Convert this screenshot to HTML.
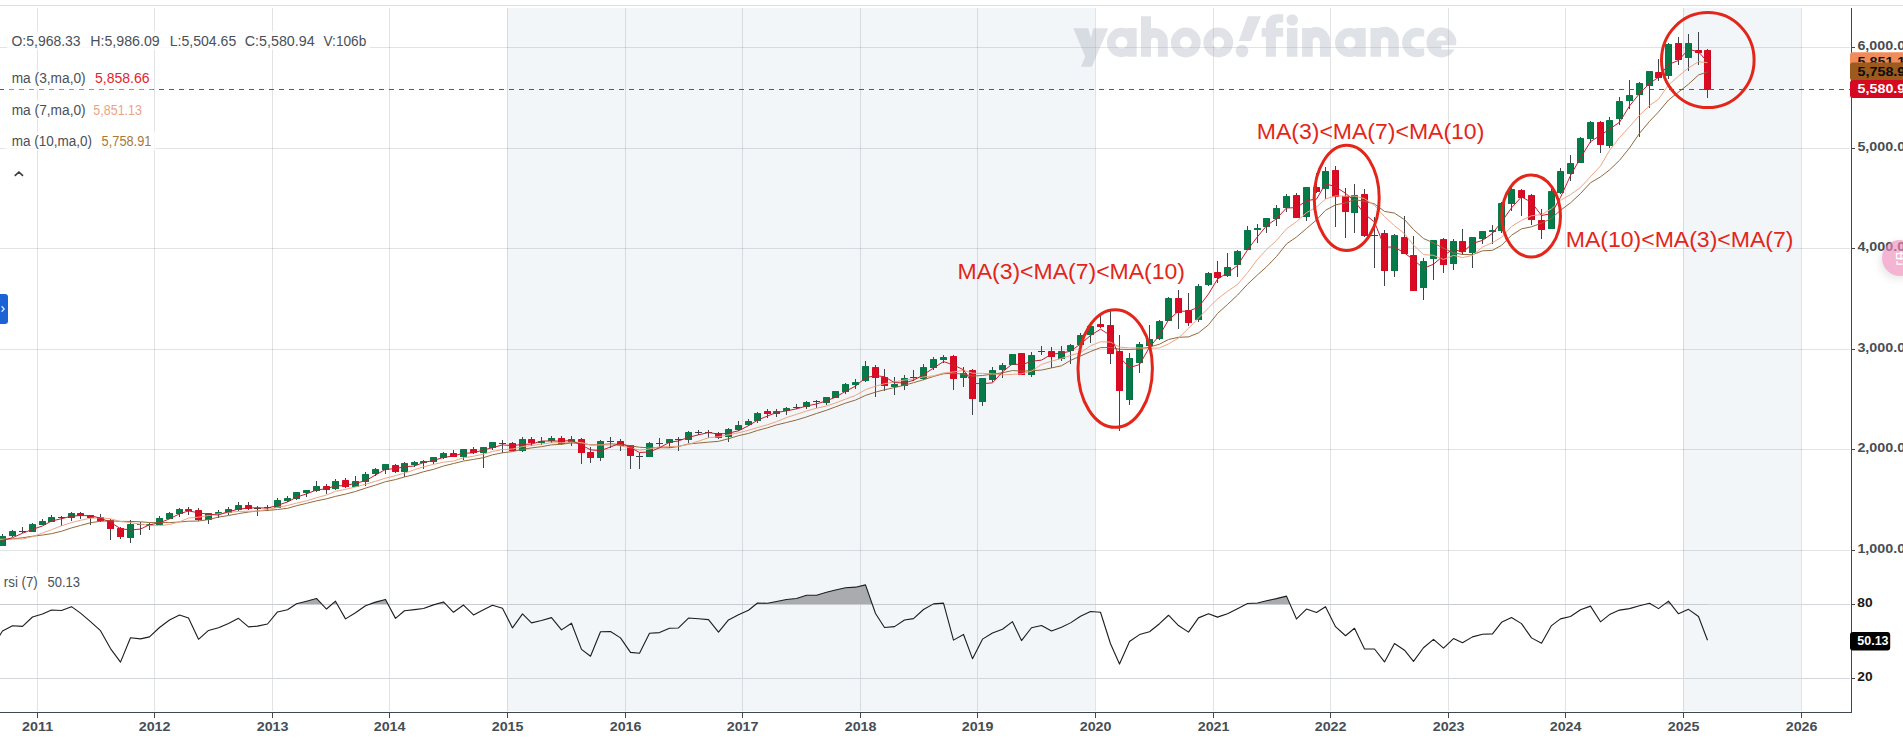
<!DOCTYPE html>
<html><head><meta charset="utf-8"><style>
html,body{margin:0;padding:0;background:#fff;width:1903px;height:748px;overflow:hidden;position:relative}
.lg{position:absolute;font-family:"Liberation Sans",sans-serif;font-size:13px;color:#3d434a;background:rgba(255,255,255,0.85);line-height:18px;white-space:nowrap}
.chev{position:absolute;left:15px;top:171px;width:6px;height:6px;border-left:1.6px solid #444;border-top:1.6px solid #444;transform:rotate(45deg);transform-origin:center}
.tab{position:absolute;left:0;top:294px;width:8px;height:30px;background:#1b62d6;border-radius:0 3px 3px 0}
.pink{position:absolute;left:1882px;top:240px;width:36px;height:36px;border-radius:50%;background:rgba(238,136,184,0.62);box-shadow:-2px 3px 9px rgba(0,0,0,0.10)}
</style></head><body>
<svg width="1903" height="748" viewBox="0 0 1903 748" style="position:absolute;left:0;top:0">
<rect x="0" y="5" width="1903" height="1" fill="#dcdfe3"/>
<rect x="507" y="8" width="588" height="703" fill="#f2f6f9"/>
<rect x="1683" y="8" width="118" height="703" fill="#f2f6f9"/>
<rect x="37" y="8" width="1" height="703" fill="rgba(0,12,30,0.115)"/>
<rect x="154" y="8" width="1" height="703" fill="rgba(0,12,30,0.115)"/>
<rect x="272" y="8" width="1" height="703" fill="rgba(0,12,30,0.115)"/>
<rect x="389" y="8" width="1" height="703" fill="rgba(0,12,30,0.115)"/>
<rect x="507" y="8" width="1" height="703" fill="rgba(0,12,30,0.115)"/>
<rect x="625" y="8" width="1" height="703" fill="rgba(0,12,30,0.115)"/>
<rect x="742" y="8" width="1" height="703" fill="rgba(0,12,30,0.115)"/>
<rect x="860" y="8" width="1" height="703" fill="rgba(0,12,30,0.115)"/>
<rect x="977" y="8" width="1" height="703" fill="rgba(0,12,30,0.115)"/>
<rect x="1095" y="8" width="1" height="703" fill="rgba(0,12,30,0.115)"/>
<rect x="1213" y="8" width="1" height="703" fill="rgba(0,12,30,0.115)"/>
<rect x="1330" y="8" width="1" height="703" fill="rgba(0,12,30,0.115)"/>
<rect x="1448" y="8" width="1" height="703" fill="rgba(0,12,30,0.115)"/>
<rect x="1565" y="8" width="1" height="703" fill="rgba(0,12,30,0.115)"/>
<rect x="1683" y="8" width="1" height="703" fill="rgba(0,12,30,0.115)"/>
<rect x="1801" y="8" width="1" height="703" fill="rgba(0,12,30,0.115)"/>
<rect x="0" y="550" width="1850" height="1" fill="rgba(0,12,30,0.115)"/>
<rect x="0" y="449" width="1850" height="1" fill="rgba(0,12,30,0.115)"/>
<rect x="0" y="349" width="1850" height="1" fill="rgba(0,12,30,0.115)"/>
<rect x="0" y="248" width="1850" height="1" fill="rgba(0,12,30,0.115)"/>
<rect x="0" y="148" width="1850" height="1" fill="rgba(0,12,30,0.115)"/>
<rect x="0" y="47" width="1850" height="1" fill="rgba(0,12,30,0.115)"/>
<rect x="0" y="604" width="1850" height="1" fill="#d3d6da"/>
<rect x="0" y="678" width="1850" height="1" fill="#d3d6da"/>
<g opacity="0.33"><path d="M1073.3,28.2 L1088.2,28.2 L1091,38.5 L1093.2,28.2 L1108.2,28.2 L1091.8,66.8 L1081,66.8 L1085.2,56.6 Z M1106.90,42.50 a14.6,14.6 0 1,1 29.20,0 a14.6,14.6 0 1,1 -29.20,0 Z M1115.60,42.50 a5.9,5.9 0 1,0 11.80,0 a5.9,5.9 0 1,0 -11.80,0 Z M1127.40,27.90 H1136.60 V56.80 H1127.40 Z M1141.00,16.30 H1151.00 V56.80 H1141.00 Z M1141.00,41.30 A13.4,13.4 0 0,1 1167.80,41.30 H1157.85 A3.45,3.45 0 0,0 1150.95,41.30 Z M1157.90,41.20 H1167.80 V56.80 H1157.90 Z M1170.90,42.50 a14.9,14.9 0 1,1 29.80,0 a14.9,14.9 0 1,1 -29.80,0 Z M1179.90,42.50 a5.9,5.9 0 1,0 11.80,0 a5.9,5.9 0 1,0 -11.80,0 Z M1203.40,42.50 a14.9,14.9 0 1,1 29.80,0 a14.9,14.9 0 1,1 -29.80,0 Z M1212.40,42.50 a5.9,5.9 0 1,0 11.80,0 a5.9,5.9 0 1,0 -11.80,0 Z M1247.7,16.3 L1260.9,16.3 L1250.9,41 L1238.8,41 Z M1235.70,51.00 a6.3,6.3 0 1,1 12.60,0 a6.3,6.3 0 1,1 -12.60,0 Z M1265.9,56.8 V25 A10.5,10.5 0 0,1 1276.4,14.3 H1283.2 V22.6 H1279.2 A3.3,3.3 0 0,0 1275.9,25.9 V56.8 Z M1261.70,27.90 H1283.20 V36.80 H1261.70 Z M1286.90,27.90 H1297.40 V56.80 H1286.90 Z M1286.40,20.00 a5.8,5.8 0 1,1 11.60,0 a5.8,5.8 0 1,1 -11.60,0 Z M1302.10,27.90 H1312.70 V56.80 H1302.10 Z M1302.20,41.00 A13.9,13.9 0 0,1 1330.00,41.00 H1319.60 A3.5,3.5 0 0,0 1312.60,41.00 Z M1320.00,40.90 H1330.00 V56.80 H1320.00 Z M1335.00,42.50 a14.6,14.6 0 1,1 29.20,0 a14.6,14.6 0 1,1 -29.20,0 Z M1343.70,42.50 a5.9,5.9 0 1,0 11.80,0 a5.9,5.9 0 1,0 -11.80,0 Z M1355.70,27.90 H1365.70 V56.80 H1355.70 Z M1370.50,27.90 H1381.00 V56.80 H1370.50 Z M1370.50,41.00 A14.15,14.15 0 0,1 1398.80,41.00 H1388.30 A3.65,3.65 0 0,0 1381.00,41.00 Z M1388.30,40.90 H1398.80 V56.80 H1388.30 Z" fill="#a0a8b6"/>
<clipPath id="cclip"><path d="M1400,10 H1424.2 V36.6 H1417 V48.6 H1424.2 V75 H1400 Z"/></clipPath>
<path d="M1402.10,42.50 a14.799999999999999,14.799999999999999 0 1,1 29.60,0 a14.799999999999999,14.799999999999999 0 1,1 -29.60,0 Z M1411.00,42.50 a5.9,5.9 0 1,0 11.80,0 a5.9,5.9 0 1,0 -11.80,0 Z" fill="#a0a8b6" fill-rule="evenodd" clip-path="url(#cclip)"/>
<clipPath id="eclip"><path d="M1420,10 H1460 V45.3 H1441.3 V49.6 H1460 V75 H1420 Z"/></clipPath>
<path d="M1426.50,42.50 a14.9,14.9 0 1,1 29.80,0 a14.9,14.9 0 1,1 -29.80,0 Z M1436.40,40.6 A4.9,4.9 0 0,1 1446.20,40.6 Z" fill="#a0a8b6" fill-rule="evenodd" clip-path="url(#eclip)"/></g>
<defs><clipPath id="cp"><rect x="0" y="8" width="1851" height="704"/></clipPath></defs>
<g clip-path="url(#cp)">
<clipPath id="rc"><rect x="0" y="0" width="1851" height="604.5"/></clipPath>
<polygon points="-6.5,604.5 -6.5,645.26 2.5,631.04 12.5,625.76 22.5,626.34 32.5,616.98 42.5,614.05 51.5,610.07 61.5,610.49 71.5,606.66 80.5,613.13 90.5,621.58 100.5,630.65 110.5,648.57 120.5,662.11 130.5,637.76 140.5,638.87 149.5,636.91 159.5,627.49 169.5,620.05 179.5,614.97 188.5,618.05 198.5,639.29 208.5,630.46 218.5,627.72 228.5,623.39 238.5,618.35 248.5,626.86 257.5,626.09 267.5,623.99 277.5,611.95 287.5,609.79 296.5,603.73 306.5,601.17 316.5,598.49 326.5,609.02 335.5,601.19 345.5,618.88 355.5,612.8 365.5,605.7 375.5,602.11 385.5,599.43 395.5,618.37 404.5,610.78 414.5,609.64 423.5,608.54 433.5,604.89 443.5,601.91 453.5,612.3 463.5,605.06 473.5,614.94 483.5,609.83 492.5,605.24 502.5,608.24 512.5,627.88 522.5,613.89 531.5,622.88 541.5,620.57 551.5,617.65 561.5,629.91 571.5,623.19 581.5,649.39 590.5,656.25 600.5,631.7 610.5,631.57 620.5,637.86 630.5,652.34 639.5,653.32 649.5,633.32 659.5,632.6 669.5,628.26 678.5,627.98 688.5,618.05 698.5,618.76 708.5,619.58 718.5,632.18 728.5,619.95 738.5,614.78 748.5,610.26 757.5,603.02 767.5,603.32 776.5,601.58 786.5,599.43 796.5,598.54 806.5,595.29 816.5,595.2 826.5,592.34 835.5,589.92 845.5,587.78 855.5,587.17 865.5,584.9 875.5,613.54 884.5,627.47 894.5,626.63 904.5,620.06 913.5,618.61 923.5,609.47 933.5,603.86 943.5,603.11 953.5,640.14 963.5,634.45 972.5,658.64 982.5,639.14 992.5,632.95 1002.5,629.23 1012.5,621.67 1021.5,640.57 1031.5,627.72 1041.5,625.45 1051.5,630.92 1061.5,627.23 1070.5,622.87 1080.5,616.28 1090.5,611.45 1100.5,612.27 1110.5,643.75 1119.5,664.09 1129.5,641.43 1139.5,634.59 1149.5,631.75 1159.5,623.7 1168.5,615.23 1178.5,625.57 1188.5,632.11 1198.5,617.88 1208.5,613.82 1217.5,617.14 1227.5,613.75 1237.5,608.69 1247.5,603.5 1257.5,602.98 1266.5,600.78 1276.5,598.64 1286.5,596.15 1296.5,618.97 1306.5,609.08 1316.5,612.52 1325.5,606.69 1335.5,626.7 1345.5,635.76 1354.5,628.24 1364.5,648.99 1374.5,648.98 1384.5,661.94 1394.5,643.47 1404.5,650.18 1413.5,661.4 1423.5,647.75 1433.5,639.36 1443.5,648.13 1453.5,638.55 1462.5,642.81 1472.5,636.9 1482.5,634.32 1492.5,633.84 1501.5,622.33 1511.5,617.58 1521.5,623.6 1531.5,637.88 1541.5,643.19 1551.5,625.58 1560.5,618.84 1570.5,616.5 1580.5,609.68 1590.5,606.14 1600.5,621.82 1609.5,614.62 1619.5,610.1 1629.5,608.64 1639.5,605.69 1649.5,603.21 1658.5,608.63 1668.5,601.17 1678.5,613.79 1688.5,609.37 1698.5,616.51 1707.5,640.29 1707.5,604.5" fill="#a9abaf" clip-path="url(#rc)"/>
<polyline points="-6.5,645.26 2.5,631.04 12.5,625.76 22.5,626.34 32.5,616.98 42.5,614.05 51.5,610.07 61.5,610.49 71.5,606.66 80.5,613.13 90.5,621.58 100.5,630.65 110.5,648.57 120.5,662.11 130.5,637.76 140.5,638.87 149.5,636.91 159.5,627.49 169.5,620.05 179.5,614.97 188.5,618.05 198.5,639.29 208.5,630.46 218.5,627.72 228.5,623.39 238.5,618.35 248.5,626.86 257.5,626.09 267.5,623.99 277.5,611.95 287.5,609.79 296.5,603.73 306.5,601.17 316.5,598.49 326.5,609.02 335.5,601.19 345.5,618.88 355.5,612.8 365.5,605.7 375.5,602.11 385.5,599.43 395.5,618.37 404.5,610.78 414.5,609.64 423.5,608.54 433.5,604.89 443.5,601.91 453.5,612.3 463.5,605.06 473.5,614.94 483.5,609.83 492.5,605.24 502.5,608.24 512.5,627.88 522.5,613.89 531.5,622.88 541.5,620.57 551.5,617.65 561.5,629.91 571.5,623.19 581.5,649.39 590.5,656.25 600.5,631.7 610.5,631.57 620.5,637.86 630.5,652.34 639.5,653.32 649.5,633.32 659.5,632.6 669.5,628.26 678.5,627.98 688.5,618.05 698.5,618.76 708.5,619.58 718.5,632.18 728.5,619.95 738.5,614.78 748.5,610.26 757.5,603.02 767.5,603.32 776.5,601.58 786.5,599.43 796.5,598.54 806.5,595.29 816.5,595.2 826.5,592.34 835.5,589.92 845.5,587.78 855.5,587.17 865.5,584.9 875.5,613.54 884.5,627.47 894.5,626.63 904.5,620.06 913.5,618.61 923.5,609.47 933.5,603.86 943.5,603.11 953.5,640.14 963.5,634.45 972.5,658.64 982.5,639.14 992.5,632.95 1002.5,629.23 1012.5,621.67 1021.5,640.57 1031.5,627.72 1041.5,625.45 1051.5,630.92 1061.5,627.23 1070.5,622.87 1080.5,616.28 1090.5,611.45 1100.5,612.27 1110.5,643.75 1119.5,664.09 1129.5,641.43 1139.5,634.59 1149.5,631.75 1159.5,623.7 1168.5,615.23 1178.5,625.57 1188.5,632.11 1198.5,617.88 1208.5,613.82 1217.5,617.14 1227.5,613.75 1237.5,608.69 1247.5,603.5 1257.5,602.98 1266.5,600.78 1276.5,598.64 1286.5,596.15 1296.5,618.97 1306.5,609.08 1316.5,612.52 1325.5,606.69 1335.5,626.7 1345.5,635.76 1354.5,628.24 1364.5,648.99 1374.5,648.98 1384.5,661.94 1394.5,643.47 1404.5,650.18 1413.5,661.4 1423.5,647.75 1433.5,639.36 1443.5,648.13 1453.5,638.55 1462.5,642.81 1472.5,636.9 1482.5,634.32 1492.5,633.84 1501.5,622.33 1511.5,617.58 1521.5,623.6 1531.5,637.88 1541.5,643.19 1551.5,625.58 1560.5,618.84 1570.5,616.5 1580.5,609.68 1590.5,606.14 1600.5,621.82 1609.5,614.62 1619.5,610.1 1629.5,608.64 1639.5,605.69 1649.5,603.21 1658.5,608.63 1668.5,601.17 1678.5,613.79 1688.5,609.37 1698.5,616.51 1707.5,640.29" fill="none" stroke="#1b1d20" stroke-width="1.1" stroke-linejoin="round"/>
<rect x="-7" y="537" width="1" height="10" fill="#3f444b"/>
<rect x="2" y="534" width="1" height="12" fill="#3f444b"/>
<rect x="12" y="530" width="1" height="7" fill="#3f444b"/>
<rect x="22" y="527" width="1" height="6" fill="#3f444b"/>
<rect x="32" y="523" width="1" height="9" fill="#3f444b"/>
<rect x="42" y="519" width="1" height="6" fill="#3f444b"/>
<rect x="51" y="515" width="1" height="7" fill="#3f444b"/>
<rect x="61" y="516" width="1" height="10" fill="#3f444b"/>
<rect x="71" y="512" width="1" height="9" fill="#3f444b"/>
<rect x="80" y="512" width="1" height="7" fill="#3f444b"/>
<rect x="90" y="515" width="1" height="10" fill="#3f444b"/>
<rect x="100" y="514" width="1" height="8" fill="#3f444b"/>
<rect x="110" y="519" width="1" height="21" fill="#3f444b"/>
<rect x="120" y="527" width="1" height="12" fill="#3f444b"/>
<rect x="130" y="520" width="1" height="23" fill="#3f444b"/>
<rect x="140" y="522" width="1" height="13" fill="#3f444b"/>
<rect x="149" y="523" width="1" height="7" fill="#3f444b"/>
<rect x="159" y="516" width="1" height="9" fill="#3f444b"/>
<rect x="169" y="512" width="1" height="7" fill="#3f444b"/>
<rect x="179" y="508" width="1" height="9" fill="#3f444b"/>
<rect x="188" y="507" width="1" height="8" fill="#3f444b"/>
<rect x="198" y="508" width="1" height="13" fill="#3f444b"/>
<rect x="208" y="513" width="1" height="11" fill="#3f444b"/>
<rect x="218" y="510" width="1" height="8" fill="#3f444b"/>
<rect x="228" y="507" width="1" height="8" fill="#3f444b"/>
<rect x="238" y="502" width="1" height="9" fill="#3f444b"/>
<rect x="248" y="502" width="1" height="8" fill="#3f444b"/>
<rect x="257" y="506" width="1" height="10" fill="#3f444b"/>
<rect x="267" y="505" width="1" height="6" fill="#3f444b"/>
<rect x="277" y="498" width="1" height="10" fill="#3f444b"/>
<rect x="287" y="496" width="1" height="6" fill="#3f444b"/>
<rect x="296" y="492" width="1" height="8" fill="#3f444b"/>
<rect x="306" y="490" width="1" height="7" fill="#3f444b"/>
<rect x="316" y="481" width="1" height="11" fill="#3f444b"/>
<rect x="326" y="484" width="1" height="10" fill="#3f444b"/>
<rect x="335" y="479" width="1" height="11" fill="#3f444b"/>
<rect x="345" y="478" width="1" height="10" fill="#3f444b"/>
<rect x="355" y="476" width="1" height="11" fill="#3f444b"/>
<rect x="365" y="472" width="1" height="14" fill="#3f444b"/>
<rect x="375" y="468" width="1" height="8" fill="#3f444b"/>
<rect x="385" y="464" width="1" height="10" fill="#3f444b"/>
<rect x="395" y="464" width="1" height="9" fill="#3f444b"/>
<rect x="404" y="462" width="1" height="15" fill="#3f444b"/>
<rect x="414" y="461" width="1" height="6" fill="#3f444b"/>
<rect x="423" y="460" width="1" height="9" fill="#3f444b"/>
<rect x="433" y="457" width="1" height="7" fill="#3f444b"/>
<rect x="443" y="452" width="1" height="7" fill="#3f444b"/>
<rect x="453" y="450" width="1" height="7" fill="#3f444b"/>
<rect x="463" y="449" width="1" height="11" fill="#3f444b"/>
<rect x="473" y="447" width="1" height="7" fill="#3f444b"/>
<rect x="483" y="447" width="1" height="21" fill="#3f444b"/>
<rect x="492" y="442" width="1" height="8" fill="#3f444b"/>
<rect x="502" y="440" width="1" height="13" fill="#3f444b"/>
<rect x="512" y="442" width="1" height="9" fill="#3f444b"/>
<rect x="522" y="437" width="1" height="15" fill="#3f444b"/>
<rect x="531" y="437" width="1" height="9" fill="#3f444b"/>
<rect x="541" y="437" width="1" height="8" fill="#3f444b"/>
<rect x="551" y="436" width="1" height="7" fill="#3f444b"/>
<rect x="561" y="436" width="1" height="9" fill="#3f444b"/>
<rect x="571" y="436" width="1" height="10" fill="#3f444b"/>
<rect x="581" y="438" width="1" height="26" fill="#3f444b"/>
<rect x="590" y="447" width="1" height="16" fill="#3f444b"/>
<rect x="600" y="440" width="1" height="21" fill="#3f444b"/>
<rect x="610" y="437" width="1" height="11" fill="#3f444b"/>
<rect x="620" y="439" width="1" height="12" fill="#3f444b"/>
<rect x="630" y="445" width="1" height="24" fill="#3f444b"/>
<rect x="639" y="453" width="1" height="16" fill="#3f444b"/>
<rect x="649" y="442" width="1" height="15" fill="#3f444b"/>
<rect x="659" y="438" width="1" height="9" fill="#3f444b"/>
<rect x="669" y="439" width="1" height="9" fill="#3f444b"/>
<rect x="678" y="437" width="1" height="14" fill="#3f444b"/>
<rect x="688" y="431" width="1" height="12" fill="#3f444b"/>
<rect x="698" y="430" width="1" height="5" fill="#3f444b"/>
<rect x="708" y="430" width="1" height="8" fill="#3f444b"/>
<rect x="718" y="432" width="1" height="7" fill="#3f444b"/>
<rect x="728" y="428" width="1" height="14" fill="#3f444b"/>
<rect x="738" y="421" width="1" height="10" fill="#3f444b"/>
<rect x="748" y="419" width="1" height="7" fill="#3f444b"/>
<rect x="757" y="412" width="1" height="11" fill="#3f444b"/>
<rect x="767" y="409" width="1" height="9" fill="#3f444b"/>
<rect x="776" y="409" width="1" height="8" fill="#3f444b"/>
<rect x="786" y="407" width="1" height="8" fill="#3f444b"/>
<rect x="796" y="404" width="1" height="5" fill="#3f444b"/>
<rect x="806" y="401" width="1" height="8" fill="#3f444b"/>
<rect x="816" y="400" width="1" height="8" fill="#3f444b"/>
<rect x="826" y="397" width="1" height="8" fill="#3f444b"/>
<rect x="835" y="391" width="1" height="7" fill="#3f444b"/>
<rect x="845" y="383" width="1" height="11" fill="#3f444b"/>
<rect x="855" y="379" width="1" height="10" fill="#3f444b"/>
<rect x="865" y="361" width="1" height="21" fill="#3f444b"/>
<rect x="875" y="365" width="1" height="32" fill="#3f444b"/>
<rect x="884" y="369" width="1" height="22" fill="#3f444b"/>
<rect x="894" y="377" width="1" height="18" fill="#3f444b"/>
<rect x="904" y="375" width="1" height="15" fill="#3f444b"/>
<rect x="913" y="370" width="1" height="11" fill="#3f444b"/>
<rect x="923" y="364" width="1" height="16" fill="#3f444b"/>
<rect x="933" y="357" width="1" height="13" fill="#3f444b"/>
<rect x="943" y="355" width="1" height="8" fill="#3f444b"/>
<rect x="953" y="355" width="1" height="35" fill="#3f444b"/>
<rect x="963" y="367" width="1" height="20" fill="#3f444b"/>
<rect x="972" y="369" width="1" height="46" fill="#3f444b"/>
<rect x="982" y="378" width="1" height="28" fill="#3f444b"/>
<rect x="992" y="367" width="1" height="15" fill="#3f444b"/>
<rect x="1002" y="363" width="1" height="15" fill="#3f444b"/>
<rect x="1012" y="354" width="1" height="11" fill="#3f444b"/>
<rect x="1021" y="353" width="1" height="22" fill="#3f444b"/>
<rect x="1031" y="352" width="1" height="25" fill="#3f444b"/>
<rect x="1041" y="346" width="1" height="9" fill="#3f444b"/>
<rect x="1051" y="347" width="1" height="21" fill="#3f444b"/>
<rect x="1061" y="346" width="1" height="15" fill="#3f444b"/>
<rect x="1070" y="344" width="1" height="20" fill="#3f444b"/>
<rect x="1080" y="333" width="1" height="12" fill="#3f444b"/>
<rect x="1090" y="324" width="1" height="19" fill="#3f444b"/>
<rect x="1100" y="315" width="1" height="13" fill="#3f444b"/>
<rect x="1110" y="309" width="1" height="55" fill="#3f444b"/>
<rect x="1119" y="335" width="1" height="96" fill="#3f444b"/>
<rect x="1129" y="353" width="1" height="52" fill="#3f444b"/>
<rect x="1139" y="342" width="1" height="31" fill="#3f444b"/>
<rect x="1149" y="325" width="1" height="25" fill="#3f444b"/>
<rect x="1159" y="320" width="1" height="20" fill="#3f444b"/>
<rect x="1168" y="297" width="1" height="24" fill="#3f444b"/>
<rect x="1178" y="290" width="1" height="39" fill="#3f444b"/>
<rect x="1188" y="293" width="1" height="33" fill="#3f444b"/>
<rect x="1198" y="284" width="1" height="38" fill="#3f444b"/>
<rect x="1208" y="272" width="1" height="14" fill="#3f444b"/>
<rect x="1217" y="261" width="1" height="22" fill="#3f444b"/>
<rect x="1227" y="253" width="1" height="24" fill="#3f444b"/>
<rect x="1237" y="250" width="1" height="27" fill="#3f444b"/>
<rect x="1247" y="226" width="1" height="24" fill="#3f444b"/>
<rect x="1257" y="224" width="1" height="19" fill="#3f444b"/>
<rect x="1266" y="218" width="1" height="15" fill="#3f444b"/>
<rect x="1276" y="205" width="1" height="21" fill="#3f444b"/>
<rect x="1286" y="194" width="1" height="18" fill="#3f444b"/>
<rect x="1296" y="193" width="1" height="25" fill="#3f444b"/>
<rect x="1306" y="187" width="1" height="34" fill="#3f444b"/>
<rect x="1316" y="173" width="1" height="20" fill="#3f444b"/>
<rect x="1325" y="167" width="1" height="32" fill="#3f444b"/>
<rect x="1335" y="166" width="1" height="61" fill="#3f444b"/>
<rect x="1345" y="188" width="1" height="50" fill="#3f444b"/>
<rect x="1354" y="184" width="1" height="49" fill="#3f444b"/>
<rect x="1364" y="189" width="1" height="48" fill="#3f444b"/>
<rect x="1374" y="217" width="1" height="51" fill="#3f444b"/>
<rect x="1384" y="230" width="1" height="56" fill="#3f444b"/>
<rect x="1394" y="234" width="1" height="43" fill="#3f444b"/>
<rect x="1404" y="216" width="1" height="38" fill="#3f444b"/>
<rect x="1413" y="236" width="1" height="55" fill="#3f444b"/>
<rect x="1423" y="258" width="1" height="42" fill="#3f444b"/>
<rect x="1433" y="240" width="1" height="40" fill="#3f444b"/>
<rect x="1443" y="238" width="1" height="35" fill="#3f444b"/>
<rect x="1453" y="239" width="1" height="31" fill="#3f444b"/>
<rect x="1462" y="229" width="1" height="26" fill="#3f444b"/>
<rect x="1472" y="237" width="1" height="31" fill="#3f444b"/>
<rect x="1482" y="231" width="1" height="13" fill="#3f444b"/>
<rect x="1492" y="225" width="1" height="19" fill="#3f444b"/>
<rect x="1501" y="202" width="1" height="31" fill="#3f444b"/>
<rect x="1511" y="187" width="1" height="24" fill="#3f444b"/>
<rect x="1521" y="189" width="1" height="27" fill="#3f444b"/>
<rect x="1531" y="194" width="1" height="31" fill="#3f444b"/>
<rect x="1541" y="209" width="1" height="30" fill="#3f444b"/>
<rect x="1551" y="189" width="1" height="40" fill="#3f444b"/>
<rect x="1560" y="168" width="1" height="26" fill="#3f444b"/>
<rect x="1570" y="155" width="1" height="26" fill="#3f444b"/>
<rect x="1580" y="137" width="1" height="26" fill="#3f444b"/>
<rect x="1590" y="121" width="1" height="22" fill="#3f444b"/>
<rect x="1600" y="121" width="1" height="32" fill="#3f444b"/>
<rect x="1609" y="117" width="1" height="31" fill="#3f444b"/>
<rect x="1619" y="97" width="1" height="28" fill="#3f444b"/>
<rect x="1629" y="80" width="1" height="29" fill="#3f444b"/>
<rect x="1639" y="82" width="1" height="55" fill="#3f444b"/>
<rect x="1649" y="71" width="1" height="37" fill="#3f444b"/>
<rect x="1658" y="59" width="1" height="22" fill="#3f444b"/>
<rect x="1668" y="43" width="1" height="36" fill="#3f444b"/>
<rect x="1678" y="37" width="1" height="28" fill="#3f444b"/>
<rect x="1688" y="34" width="1" height="37" fill="#3f444b"/>
<rect x="1698" y="32" width="1" height="33" fill="#3f444b"/>
<rect x="1707" y="49" width="1" height="49" fill="#3f444b"/>
<rect x="-10" y="539" width="7" height="7" fill="#db0b23" rx="0.6"/>
<rect x="-4" y="539.6" width="1" height="5.8" fill="#a50d24" opacity="0.55"/>
<rect x="-1" y="536" width="7" height="10" fill="#067a48" rx="0.6"/>
<rect x="5" y="536.6" width="1" height="8.8" fill="#0b5e3b" opacity="0.55"/>
<rect x="9" y="531" width="7" height="5" fill="#067a48" rx="0.6"/>
<rect x="15" y="531.6" width="1" height="3.8" fill="#0b5e3b" opacity="0.55"/>
<rect x="19" y="531" width="7" height="1" fill="#3f444b"/>
<rect x="29" y="524" width="7" height="8" fill="#067a48" rx="0.6"/>
<rect x="35" y="524.6" width="1" height="6.8" fill="#0b5e3b" opacity="0.55"/>
<rect x="39" y="521" width="7" height="4" fill="#067a48" rx="0.6"/>
<rect x="45" y="521.6" width="1" height="2.8" fill="#0b5e3b" opacity="0.55"/>
<rect x="48" y="517" width="7" height="5" fill="#067a48" rx="0.6"/>
<rect x="54" y="517.6" width="1" height="3.8" fill="#0b5e3b" opacity="0.55"/>
<rect x="58" y="517" width="7" height="1" fill="#3f444b"/>
<rect x="68" y="513" width="7" height="5" fill="#067a48" rx="0.6"/>
<rect x="74" y="513.6" width="1" height="3.8" fill="#0b5e3b" opacity="0.55"/>
<rect x="77" y="513" width="7" height="3" fill="#db0b23" rx="0.6"/>
<rect x="83" y="513.6" width="1" height="1.8" fill="#a50d24" opacity="0.55"/>
<rect x="87" y="515" width="7" height="3" fill="#db0b23" rx="0.6"/>
<rect x="93" y="515.6" width="1" height="1.8" fill="#a50d24" opacity="0.55"/>
<rect x="97" y="517" width="7" height="4" fill="#db0b23" rx="0.6"/>
<rect x="103" y="517.6" width="1" height="2.8" fill="#a50d24" opacity="0.55"/>
<rect x="107" y="520" width="7" height="9" fill="#db0b23" rx="0.6"/>
<rect x="113" y="520.6" width="1" height="7.8" fill="#a50d24" opacity="0.55"/>
<rect x="117" y="528" width="7" height="9" fill="#db0b23" rx="0.6"/>
<rect x="123" y="528.6" width="1" height="7.8" fill="#a50d24" opacity="0.55"/>
<rect x="127" y="524" width="7" height="14" fill="#067a48" rx="0.6"/>
<rect x="133" y="524.6" width="1" height="12.8" fill="#0b5e3b" opacity="0.55"/>
<rect x="137" y="524" width="7" height="1" fill="#3f444b"/>
<rect x="146" y="524" width="7" height="2" fill="#067a48" rx="0.6"/>
<rect x="156" y="518" width="7" height="7" fill="#067a48" rx="0.6"/>
<rect x="162" y="518.6" width="1" height="5.8" fill="#0b5e3b" opacity="0.55"/>
<rect x="166" y="513" width="7" height="6" fill="#067a48" rx="0.6"/>
<rect x="172" y="513.6" width="1" height="4.8" fill="#0b5e3b" opacity="0.55"/>
<rect x="176" y="509" width="7" height="5" fill="#067a48" rx="0.6"/>
<rect x="182" y="509.6" width="1" height="3.8" fill="#0b5e3b" opacity="0.55"/>
<rect x="185" y="509" width="7" height="2" fill="#db0b23" rx="0.6"/>
<rect x="195" y="510" width="7" height="10" fill="#db0b23" rx="0.6"/>
<rect x="201" y="510.6" width="1" height="8.8" fill="#a50d24" opacity="0.55"/>
<rect x="205" y="513" width="7" height="7" fill="#067a48" rx="0.6"/>
<rect x="211" y="513.6" width="1" height="5.8" fill="#0b5e3b" opacity="0.55"/>
<rect x="215" y="512" width="7" height="2" fill="#067a48" rx="0.6"/>
<rect x="225" y="509" width="7" height="4" fill="#067a48" rx="0.6"/>
<rect x="231" y="509.6" width="1" height="2.8" fill="#0b5e3b" opacity="0.55"/>
<rect x="235" y="505" width="7" height="5" fill="#067a48" rx="0.6"/>
<rect x="241" y="505.6" width="1" height="3.8" fill="#0b5e3b" opacity="0.55"/>
<rect x="245" y="505" width="7" height="4" fill="#db0b23" rx="0.6"/>
<rect x="251" y="505.6" width="1" height="2.8" fill="#a50d24" opacity="0.55"/>
<rect x="254" y="508" width="7" height="1" fill="#3f444b"/>
<rect x="264" y="507" width="7" height="1" fill="#3f444b"/>
<rect x="274" y="500" width="7" height="8" fill="#067a48" rx="0.6"/>
<rect x="280" y="500.6" width="1" height="6.8" fill="#0b5e3b" opacity="0.55"/>
<rect x="284" y="498" width="7" height="3" fill="#067a48" rx="0.6"/>
<rect x="290" y="498.6" width="1" height="1.8" fill="#0b5e3b" opacity="0.55"/>
<rect x="293" y="492" width="7" height="7" fill="#067a48" rx="0.6"/>
<rect x="299" y="492.6" width="1" height="5.8" fill="#0b5e3b" opacity="0.55"/>
<rect x="303" y="490" width="7" height="3" fill="#067a48" rx="0.6"/>
<rect x="309" y="490.6" width="1" height="1.8" fill="#0b5e3b" opacity="0.55"/>
<rect x="313" y="486" width="7" height="5" fill="#067a48" rx="0.6"/>
<rect x="319" y="486.6" width="1" height="3.8" fill="#0b5e3b" opacity="0.55"/>
<rect x="323" y="486" width="7" height="4" fill="#db0b23" rx="0.6"/>
<rect x="329" y="486.6" width="1" height="2.8" fill="#a50d24" opacity="0.55"/>
<rect x="332" y="481" width="7" height="8" fill="#067a48" rx="0.6"/>
<rect x="338" y="481.6" width="1" height="6.8" fill="#0b5e3b" opacity="0.55"/>
<rect x="342" y="480" width="7" height="7" fill="#db0b23" rx="0.6"/>
<rect x="348" y="480.6" width="1" height="5.8" fill="#a50d24" opacity="0.55"/>
<rect x="352" y="481" width="7" height="6" fill="#067a48" rx="0.6"/>
<rect x="358" y="481.6" width="1" height="4.8" fill="#0b5e3b" opacity="0.55"/>
<rect x="362" y="474" width="7" height="8" fill="#067a48" rx="0.6"/>
<rect x="368" y="474.6" width="1" height="6.8" fill="#0b5e3b" opacity="0.55"/>
<rect x="372" y="469" width="7" height="5" fill="#067a48" rx="0.6"/>
<rect x="378" y="469.6" width="1" height="3.8" fill="#0b5e3b" opacity="0.55"/>
<rect x="382" y="464" width="7" height="6" fill="#067a48" rx="0.6"/>
<rect x="388" y="464.6" width="1" height="4.8" fill="#0b5e3b" opacity="0.55"/>
<rect x="392" y="465" width="7" height="7" fill="#db0b23" rx="0.6"/>
<rect x="398" y="465.6" width="1" height="5.8" fill="#a50d24" opacity="0.55"/>
<rect x="401" y="463" width="7" height="9" fill="#067a48" rx="0.6"/>
<rect x="407" y="463.6" width="1" height="7.8" fill="#0b5e3b" opacity="0.55"/>
<rect x="411" y="462" width="7" height="3" fill="#067a48" rx="0.6"/>
<rect x="417" y="462.6" width="1" height="1.8" fill="#0b5e3b" opacity="0.55"/>
<rect x="420" y="461" width="7" height="2" fill="#067a48" rx="0.6"/>
<rect x="430" y="457" width="7" height="5" fill="#067a48" rx="0.6"/>
<rect x="436" y="457.6" width="1" height="3.8" fill="#0b5e3b" opacity="0.55"/>
<rect x="440" y="453" width="7" height="5" fill="#067a48" rx="0.6"/>
<rect x="446" y="453.6" width="1" height="3.8" fill="#0b5e3b" opacity="0.55"/>
<rect x="450" y="453" width="7" height="4" fill="#db0b23" rx="0.6"/>
<rect x="456" y="453.6" width="1" height="2.8" fill="#a50d24" opacity="0.55"/>
<rect x="460" y="449" width="7" height="8" fill="#067a48" rx="0.6"/>
<rect x="466" y="449.6" width="1" height="6.8" fill="#0b5e3b" opacity="0.55"/>
<rect x="470" y="449" width="7" height="4" fill="#db0b23" rx="0.6"/>
<rect x="476" y="449.6" width="1" height="2.8" fill="#a50d24" opacity="0.55"/>
<rect x="480" y="447" width="7" height="6" fill="#067a48" rx="0.6"/>
<rect x="486" y="447.6" width="1" height="4.8" fill="#0b5e3b" opacity="0.55"/>
<rect x="489" y="442" width="7" height="6" fill="#067a48" rx="0.6"/>
<rect x="495" y="442.6" width="1" height="4.8" fill="#0b5e3b" opacity="0.55"/>
<rect x="499" y="443" width="7" height="1" fill="#3f444b"/>
<rect x="509" y="443" width="7" height="8" fill="#db0b23" rx="0.6"/>
<rect x="515" y="443.6" width="1" height="6.8" fill="#a50d24" opacity="0.55"/>
<rect x="519" y="439" width="7" height="12" fill="#067a48" rx="0.6"/>
<rect x="525" y="439.6" width="1" height="10.8" fill="#0b5e3b" opacity="0.55"/>
<rect x="528" y="439" width="7" height="4" fill="#db0b23" rx="0.6"/>
<rect x="534" y="439.6" width="1" height="2.8" fill="#a50d24" opacity="0.55"/>
<rect x="538" y="441" width="7" height="2" fill="#067a48" rx="0.6"/>
<rect x="548" y="438" width="7" height="3" fill="#067a48" rx="0.6"/>
<rect x="554" y="438.6" width="1" height="1.8" fill="#0b5e3b" opacity="0.55"/>
<rect x="558" y="438" width="7" height="6" fill="#db0b23" rx="0.6"/>
<rect x="564" y="438.6" width="1" height="4.8" fill="#a50d24" opacity="0.55"/>
<rect x="568" y="439" width="7" height="4" fill="#067a48" rx="0.6"/>
<rect x="574" y="439.6" width="1" height="2.8" fill="#0b5e3b" opacity="0.55"/>
<rect x="578" y="439" width="7" height="14" fill="#db0b23" rx="0.6"/>
<rect x="584" y="439.6" width="1" height="12.8" fill="#a50d24" opacity="0.55"/>
<rect x="587" y="452" width="7" height="6" fill="#db0b23" rx="0.6"/>
<rect x="593" y="452.6" width="1" height="4.8" fill="#a50d24" opacity="0.55"/>
<rect x="597" y="441" width="7" height="17" fill="#067a48" rx="0.6"/>
<rect x="603" y="441.6" width="1" height="15.8" fill="#0b5e3b" opacity="0.55"/>
<rect x="607" y="441" width="7" height="1" fill="#3f444b"/>
<rect x="617" y="441" width="7" height="5" fill="#db0b23" rx="0.6"/>
<rect x="623" y="441.6" width="1" height="3.8" fill="#a50d24" opacity="0.55"/>
<rect x="627" y="445" width="7" height="11" fill="#db0b23" rx="0.6"/>
<rect x="633" y="445.6" width="1" height="9.8" fill="#a50d24" opacity="0.55"/>
<rect x="636" y="456" width="7" height="1" fill="#3f444b"/>
<rect x="646" y="443" width="7" height="14" fill="#067a48" rx="0.6"/>
<rect x="652" y="443.6" width="1" height="12.8" fill="#0b5e3b" opacity="0.55"/>
<rect x="656" y="443" width="7" height="1" fill="#3f444b"/>
<rect x="666" y="439" width="7" height="4" fill="#067a48" rx="0.6"/>
<rect x="672" y="439.6" width="1" height="2.8" fill="#0b5e3b" opacity="0.55"/>
<rect x="675" y="439" width="7" height="1" fill="#3f444b"/>
<rect x="685" y="432" width="7" height="8" fill="#067a48" rx="0.6"/>
<rect x="691" y="432.6" width="1" height="6.8" fill="#0b5e3b" opacity="0.55"/>
<rect x="695" y="432" width="7" height="1" fill="#3f444b"/>
<rect x="705" y="432" width="7" height="1" fill="#3f444b"/>
<rect x="715" y="433" width="7" height="5" fill="#db0b23" rx="0.6"/>
<rect x="721" y="433.6" width="1" height="3.8" fill="#a50d24" opacity="0.55"/>
<rect x="725" y="429" width="7" height="8" fill="#067a48" rx="0.6"/>
<rect x="731" y="429.6" width="1" height="6.8" fill="#0b5e3b" opacity="0.55"/>
<rect x="735" y="425" width="7" height="5" fill="#067a48" rx="0.6"/>
<rect x="741" y="425.6" width="1" height="3.8" fill="#0b5e3b" opacity="0.55"/>
<rect x="745" y="421" width="7" height="4" fill="#067a48" rx="0.6"/>
<rect x="751" y="421.6" width="1" height="2.8" fill="#0b5e3b" opacity="0.55"/>
<rect x="754" y="413" width="7" height="8" fill="#067a48" rx="0.6"/>
<rect x="760" y="413.6" width="1" height="6.8" fill="#0b5e3b" opacity="0.55"/>
<rect x="764" y="411" width="7" height="3" fill="#db0b23" rx="0.6"/>
<rect x="770" y="411.6" width="1" height="1.8" fill="#a50d24" opacity="0.55"/>
<rect x="773" y="411" width="7" height="3" fill="#067a48" rx="0.6"/>
<rect x="779" y="411.6" width="1" height="1.8" fill="#0b5e3b" opacity="0.55"/>
<rect x="783" y="408" width="7" height="3" fill="#067a48" rx="0.6"/>
<rect x="789" y="408.6" width="1" height="1.8" fill="#0b5e3b" opacity="0.55"/>
<rect x="793" y="407" width="7" height="1" fill="#3f444b"/>
<rect x="803" y="402" width="7" height="5" fill="#067a48" rx="0.6"/>
<rect x="809" y="402.6" width="1" height="3.8" fill="#0b5e3b" opacity="0.55"/>
<rect x="813" y="401" width="7" height="1" fill="#3f444b"/>
<rect x="823" y="397" width="7" height="6" fill="#067a48" rx="0.6"/>
<rect x="829" y="397.6" width="1" height="4.8" fill="#0b5e3b" opacity="0.55"/>
<rect x="832" y="391" width="7" height="7" fill="#067a48" rx="0.6"/>
<rect x="838" y="391.6" width="1" height="5.8" fill="#0b5e3b" opacity="0.55"/>
<rect x="842" y="384" width="7" height="8" fill="#067a48" rx="0.6"/>
<rect x="848" y="384.6" width="1" height="6.8" fill="#0b5e3b" opacity="0.55"/>
<rect x="852" y="382" width="7" height="3" fill="#067a48" rx="0.6"/>
<rect x="858" y="382.6" width="1" height="1.8" fill="#0b5e3b" opacity="0.55"/>
<rect x="862" y="366" width="7" height="15" fill="#067a48" rx="0.6"/>
<rect x="868" y="366.6" width="1" height="13.8" fill="#0b5e3b" opacity="0.55"/>
<rect x="872" y="367" width="7" height="11" fill="#db0b23" rx="0.6"/>
<rect x="878" y="367.6" width="1" height="9.8" fill="#a50d24" opacity="0.55"/>
<rect x="881" y="377" width="7" height="9" fill="#db0b23" rx="0.6"/>
<rect x="887" y="377.6" width="1" height="7.8" fill="#a50d24" opacity="0.55"/>
<rect x="891" y="384" width="7" height="3" fill="#067a48" rx="0.6"/>
<rect x="897" y="384.6" width="1" height="1.8" fill="#0b5e3b" opacity="0.55"/>
<rect x="901" y="378" width="7" height="8" fill="#067a48" rx="0.6"/>
<rect x="907" y="378.6" width="1" height="6.8" fill="#0b5e3b" opacity="0.55"/>
<rect x="910" y="377" width="7" height="1" fill="#3f444b"/>
<rect x="920" y="367" width="7" height="12" fill="#067a48" rx="0.6"/>
<rect x="926" y="367.6" width="1" height="10.8" fill="#0b5e3b" opacity="0.55"/>
<rect x="930" y="359" width="7" height="9" fill="#067a48" rx="0.6"/>
<rect x="936" y="359.6" width="1" height="7.8" fill="#0b5e3b" opacity="0.55"/>
<rect x="940" y="357" width="7" height="3" fill="#067a48" rx="0.6"/>
<rect x="946" y="357.6" width="1" height="1.8" fill="#0b5e3b" opacity="0.55"/>
<rect x="950" y="356" width="7" height="23" fill="#db0b23" rx="0.6"/>
<rect x="956" y="356.6" width="1" height="21.8" fill="#a50d24" opacity="0.55"/>
<rect x="960" y="373" width="7" height="5" fill="#067a48" rx="0.6"/>
<rect x="966" y="373.6" width="1" height="3.8" fill="#0b5e3b" opacity="0.55"/>
<rect x="969" y="370" width="7" height="29" fill="#db0b23" rx="0.6"/>
<rect x="975" y="370.6" width="1" height="27.8" fill="#a50d24" opacity="0.55"/>
<rect x="979" y="378" width="7" height="24" fill="#067a48" rx="0.6"/>
<rect x="985" y="378.6" width="1" height="22.8" fill="#0b5e3b" opacity="0.55"/>
<rect x="989" y="370" width="7" height="10" fill="#067a48" rx="0.6"/>
<rect x="995" y="370.6" width="1" height="8.8" fill="#0b5e3b" opacity="0.55"/>
<rect x="999" y="365" width="7" height="5" fill="#067a48" rx="0.6"/>
<rect x="1005" y="365.6" width="1" height="3.8" fill="#0b5e3b" opacity="0.55"/>
<rect x="1009" y="354" width="7" height="11" fill="#067a48" rx="0.6"/>
<rect x="1015" y="354.6" width="1" height="9.8" fill="#0b5e3b" opacity="0.55"/>
<rect x="1018" y="353" width="7" height="22" fill="#db0b23" rx="0.6"/>
<rect x="1024" y="353.6" width="1" height="20.8" fill="#a50d24" opacity="0.55"/>
<rect x="1028" y="355" width="7" height="20" fill="#067a48" rx="0.6"/>
<rect x="1034" y="355.6" width="1" height="18.8" fill="#0b5e3b" opacity="0.55"/>
<rect x="1038" y="351" width="7" height="1" fill="#3f444b"/>
<rect x="1048" y="351" width="7" height="6" fill="#db0b23" rx="0.6"/>
<rect x="1054" y="351.6" width="1" height="4.8" fill="#a50d24" opacity="0.55"/>
<rect x="1058" y="351" width="7" height="8" fill="#067a48" rx="0.6"/>
<rect x="1064" y="351.6" width="1" height="6.8" fill="#0b5e3b" opacity="0.55"/>
<rect x="1067" y="345" width="7" height="6" fill="#067a48" rx="0.6"/>
<rect x="1073" y="345.6" width="1" height="4.8" fill="#0b5e3b" opacity="0.55"/>
<rect x="1077" y="335" width="7" height="10" fill="#067a48" rx="0.6"/>
<rect x="1083" y="335.6" width="1" height="8.8" fill="#0b5e3b" opacity="0.55"/>
<rect x="1087" y="326" width="7" height="9" fill="#067a48" rx="0.6"/>
<rect x="1093" y="326.6" width="1" height="7.8" fill="#0b5e3b" opacity="0.55"/>
<rect x="1097" y="324" width="7" height="3" fill="#db0b23" rx="0.6"/>
<rect x="1103" y="324.6" width="1" height="1.8" fill="#a50d24" opacity="0.55"/>
<rect x="1107" y="325" width="7" height="29" fill="#db0b23" rx="0.6"/>
<rect x="1113" y="325.6" width="1" height="27.8" fill="#a50d24" opacity="0.55"/>
<rect x="1116" y="351" width="7" height="40" fill="#db0b23" rx="0.6"/>
<rect x="1122" y="351.6" width="1" height="38.8" fill="#a50d24" opacity="0.55"/>
<rect x="1126" y="358" width="7" height="42" fill="#067a48" rx="0.6"/>
<rect x="1132" y="358.6" width="1" height="40.8" fill="#0b5e3b" opacity="0.55"/>
<rect x="1136" y="344" width="7" height="19" fill="#067a48" rx="0.6"/>
<rect x="1142" y="344.6" width="1" height="17.8" fill="#0b5e3b" opacity="0.55"/>
<rect x="1146" y="339" width="7" height="7" fill="#067a48" rx="0.6"/>
<rect x="1152" y="339.6" width="1" height="5.8" fill="#0b5e3b" opacity="0.55"/>
<rect x="1156" y="321" width="7" height="18" fill="#067a48" rx="0.6"/>
<rect x="1162" y="321.6" width="1" height="16.8" fill="#0b5e3b" opacity="0.55"/>
<rect x="1165" y="298" width="7" height="23" fill="#067a48" rx="0.6"/>
<rect x="1171" y="298.6" width="1" height="21.8" fill="#0b5e3b" opacity="0.55"/>
<rect x="1175" y="298" width="7" height="15" fill="#db0b23" rx="0.6"/>
<rect x="1181" y="298.6" width="1" height="13.8" fill="#a50d24" opacity="0.55"/>
<rect x="1185" y="310" width="7" height="13" fill="#db0b23" rx="0.6"/>
<rect x="1191" y="310.6" width="1" height="11.8" fill="#a50d24" opacity="0.55"/>
<rect x="1195" y="286" width="7" height="34" fill="#067a48" rx="0.6"/>
<rect x="1201" y="286.6" width="1" height="32.8" fill="#0b5e3b" opacity="0.55"/>
<rect x="1205" y="273" width="7" height="12" fill="#067a48" rx="0.6"/>
<rect x="1211" y="273.6" width="1" height="10.8" fill="#0b5e3b" opacity="0.55"/>
<rect x="1214" y="272" width="7" height="6" fill="#db0b23" rx="0.6"/>
<rect x="1220" y="272.6" width="1" height="4.8" fill="#a50d24" opacity="0.55"/>
<rect x="1224" y="267" width="7" height="9" fill="#067a48" rx="0.6"/>
<rect x="1230" y="267.6" width="1" height="7.8" fill="#0b5e3b" opacity="0.55"/>
<rect x="1234" y="251" width="7" height="14" fill="#067a48" rx="0.6"/>
<rect x="1240" y="251.6" width="1" height="12.8" fill="#0b5e3b" opacity="0.55"/>
<rect x="1244" y="230" width="7" height="20" fill="#067a48" rx="0.6"/>
<rect x="1250" y="230.6" width="1" height="18.8" fill="#0b5e3b" opacity="0.55"/>
<rect x="1254" y="228" width="7" height="2" fill="#067a48" rx="0.6"/>
<rect x="1263" y="218" width="7" height="9" fill="#067a48" rx="0.6"/>
<rect x="1269" y="218.6" width="1" height="7.8" fill="#0b5e3b" opacity="0.55"/>
<rect x="1273" y="208" width="7" height="11" fill="#067a48" rx="0.6"/>
<rect x="1279" y="208.6" width="1" height="9.8" fill="#0b5e3b" opacity="0.55"/>
<rect x="1283" y="196" width="7" height="12" fill="#067a48" rx="0.6"/>
<rect x="1289" y="196.6" width="1" height="10.8" fill="#0b5e3b" opacity="0.55"/>
<rect x="1293" y="195" width="7" height="23" fill="#db0b23" rx="0.6"/>
<rect x="1299" y="195.6" width="1" height="21.8" fill="#a50d24" opacity="0.55"/>
<rect x="1303" y="187" width="7" height="30" fill="#067a48" rx="0.6"/>
<rect x="1309" y="187.6" width="1" height="28.8" fill="#0b5e3b" opacity="0.55"/>
<rect x="1313" y="187" width="7" height="5" fill="#db0b23" rx="0.6"/>
<rect x="1319" y="187.6" width="1" height="3.8" fill="#a50d24" opacity="0.55"/>
<rect x="1322" y="171" width="7" height="18" fill="#067a48" rx="0.6"/>
<rect x="1328" y="171.6" width="1" height="16.8" fill="#0b5e3b" opacity="0.55"/>
<rect x="1332" y="170" width="7" height="27" fill="#db0b23" rx="0.6"/>
<rect x="1338" y="170.6" width="1" height="25.8" fill="#a50d24" opacity="0.55"/>
<rect x="1342" y="196" width="7" height="16" fill="#db0b23" rx="0.6"/>
<rect x="1348" y="196.6" width="1" height="14.8" fill="#a50d24" opacity="0.55"/>
<rect x="1351" y="195" width="7" height="18" fill="#067a48" rx="0.6"/>
<rect x="1357" y="195.6" width="1" height="16.8" fill="#0b5e3b" opacity="0.55"/>
<rect x="1361" y="194" width="7" height="42" fill="#db0b23" rx="0.6"/>
<rect x="1367" y="194.6" width="1" height="40.8" fill="#a50d24" opacity="0.55"/>
<rect x="1371" y="235" width="7" height="1" fill="#3f444b"/>
<rect x="1381" y="233" width="7" height="38" fill="#db0b23" rx="0.6"/>
<rect x="1387" y="233.6" width="1" height="36.8" fill="#a50d24" opacity="0.55"/>
<rect x="1391" y="235" width="7" height="36" fill="#067a48" rx="0.6"/>
<rect x="1397" y="235.6" width="1" height="34.8" fill="#0b5e3b" opacity="0.55"/>
<rect x="1401" y="237" width="7" height="17" fill="#db0b23" rx="0.6"/>
<rect x="1407" y="237.6" width="1" height="15.8" fill="#a50d24" opacity="0.55"/>
<rect x="1410" y="255" width="7" height="36" fill="#db0b23" rx="0.6"/>
<rect x="1416" y="255.6" width="1" height="34.8" fill="#a50d24" opacity="0.55"/>
<rect x="1420" y="261" width="7" height="27" fill="#067a48" rx="0.6"/>
<rect x="1426" y="261.6" width="1" height="25.8" fill="#0b5e3b" opacity="0.55"/>
<rect x="1430" y="240" width="7" height="19" fill="#067a48" rx="0.6"/>
<rect x="1436" y="240.6" width="1" height="17.8" fill="#0b5e3b" opacity="0.55"/>
<rect x="1440" y="239" width="7" height="26" fill="#db0b23" rx="0.6"/>
<rect x="1446" y="239.6" width="1" height="24.8" fill="#a50d24" opacity="0.55"/>
<rect x="1450" y="241" width="7" height="23" fill="#067a48" rx="0.6"/>
<rect x="1456" y="241.6" width="1" height="21.8" fill="#0b5e3b" opacity="0.55"/>
<rect x="1459" y="241" width="7" height="11" fill="#db0b23" rx="0.6"/>
<rect x="1465" y="241.6" width="1" height="9.8" fill="#a50d24" opacity="0.55"/>
<rect x="1469" y="237" width="7" height="16" fill="#067a48" rx="0.6"/>
<rect x="1475" y="237.6" width="1" height="14.8" fill="#0b5e3b" opacity="0.55"/>
<rect x="1479" y="231" width="7" height="8" fill="#067a48" rx="0.6"/>
<rect x="1485" y="231.6" width="1" height="6.8" fill="#0b5e3b" opacity="0.55"/>
<rect x="1489" y="230" width="7" height="2" fill="#067a48" rx="0.6"/>
<rect x="1498" y="203" width="7" height="28" fill="#067a48" rx="0.6"/>
<rect x="1504" y="203.6" width="1" height="26.8" fill="#0b5e3b" opacity="0.55"/>
<rect x="1508" y="189" width="7" height="15" fill="#067a48" rx="0.6"/>
<rect x="1514" y="189.6" width="1" height="13.8" fill="#0b5e3b" opacity="0.55"/>
<rect x="1518" y="190" width="7" height="8" fill="#db0b23" rx="0.6"/>
<rect x="1524" y="190.6" width="1" height="6.8" fill="#a50d24" opacity="0.55"/>
<rect x="1528" y="195" width="7" height="25" fill="#db0b23" rx="0.6"/>
<rect x="1534" y="195.6" width="1" height="23.8" fill="#a50d24" opacity="0.55"/>
<rect x="1538" y="220" width="7" height="10" fill="#db0b23" rx="0.6"/>
<rect x="1544" y="220.6" width="1" height="8.8" fill="#a50d24" opacity="0.55"/>
<rect x="1548" y="191" width="7" height="38" fill="#067a48" rx="0.6"/>
<rect x="1554" y="191.6" width="1" height="36.8" fill="#0b5e3b" opacity="0.55"/>
<rect x="1557" y="171" width="7" height="22" fill="#067a48" rx="0.6"/>
<rect x="1563" y="171.6" width="1" height="20.8" fill="#0b5e3b" opacity="0.55"/>
<rect x="1567" y="163" width="7" height="11" fill="#067a48" rx="0.6"/>
<rect x="1573" y="163.6" width="1" height="9.8" fill="#0b5e3b" opacity="0.55"/>
<rect x="1577" y="138" width="7" height="25" fill="#067a48" rx="0.6"/>
<rect x="1583" y="138.6" width="1" height="23.8" fill="#0b5e3b" opacity="0.55"/>
<rect x="1587" y="122" width="7" height="17" fill="#067a48" rx="0.6"/>
<rect x="1593" y="122.6" width="1" height="15.8" fill="#0b5e3b" opacity="0.55"/>
<rect x="1597" y="122" width="7" height="23" fill="#db0b23" rx="0.6"/>
<rect x="1603" y="122.6" width="1" height="21.8" fill="#a50d24" opacity="0.55"/>
<rect x="1606" y="120" width="7" height="26" fill="#067a48" rx="0.6"/>
<rect x="1612" y="120.6" width="1" height="24.8" fill="#0b5e3b" opacity="0.55"/>
<rect x="1616" y="101" width="7" height="18" fill="#067a48" rx="0.6"/>
<rect x="1622" y="101.6" width="1" height="16.8" fill="#0b5e3b" opacity="0.55"/>
<rect x="1626" y="95" width="7" height="6" fill="#067a48" rx="0.6"/>
<rect x="1632" y="95.6" width="1" height="4.8" fill="#0b5e3b" opacity="0.55"/>
<rect x="1636" y="83" width="7" height="12" fill="#067a48" rx="0.6"/>
<rect x="1642" y="83.6" width="1" height="10.8" fill="#0b5e3b" opacity="0.55"/>
<rect x="1646" y="71" width="7" height="15" fill="#067a48" rx="0.6"/>
<rect x="1652" y="71.6" width="1" height="13.8" fill="#0b5e3b" opacity="0.55"/>
<rect x="1655" y="72" width="7" height="6" fill="#db0b23" rx="0.6"/>
<rect x="1661" y="72.6" width="1" height="4.8" fill="#a50d24" opacity="0.55"/>
<rect x="1665" y="44" width="7" height="32" fill="#067a48" rx="0.6"/>
<rect x="1671" y="44.6" width="1" height="30.8" fill="#0b5e3b" opacity="0.55"/>
<rect x="1675" y="43" width="7" height="17" fill="#db0b23" rx="0.6"/>
<rect x="1681" y="43.6" width="1" height="15.8" fill="#a50d24" opacity="0.55"/>
<rect x="1685" y="43" width="7" height="15" fill="#067a48" rx="0.6"/>
<rect x="1691" y="43.6" width="1" height="13.8" fill="#0b5e3b" opacity="0.55"/>
<rect x="1695" y="50" width="7" height="3" fill="#db0b23" rx="0.6"/>
<rect x="1701" y="50.6" width="1" height="1.8" fill="#a50d24" opacity="0.55"/>
<rect x="1704" y="50" width="7" height="40" fill="#db0b23" rx="0.6"/>
<rect x="1710" y="50.6" width="1" height="38.8" fill="#a50d24" opacity="0.55"/>
<polyline points="-6.5,539.99 2.5,539.53 12.5,538.84 22.5,537.77 32.5,536.23 42.5,535.06 51.5,533.65 61.5,531.27 71.5,527.93 80.5,525.48 90.5,522.75 100.5,521.23 110.5,520.87 120.5,521.37 130.5,521.41 140.5,521.81 149.5,522.5 159.5,522.64 169.5,522.62 179.5,521.98 188.5,521.21 198.5,521.03 208.5,519.59 218.5,517.09 228.5,515.55 238.5,513.61 248.5,512.05 257.5,511.01 267.5,510.4 277.5,509.5 287.5,508.33 296.5,505.73 306.5,503.36 316.5,500.83 326.5,498.83 335.5,496.36 345.5,494.14 355.5,491.48 365.5,488.16 375.5,485.07 385.5,481.71 395.5,479.57 404.5,476.94 414.5,474.51 423.5,471.72 433.5,469.33 443.5,466.04 453.5,463.53 463.5,461.05 473.5,459.38 483.5,457.67 492.5,454.81 502.5,452.81 512.5,451.57 522.5,449.36 531.5,447.91 541.5,446.65 551.5,444.87 561.5,444.27 571.5,442.95 581.5,443.41 590.5,444.89 600.5,444.69 610.5,443.83 620.5,444.44 630.5,445.72 639.5,447.26 649.5,447.74 659.5,447.72 669.5,447.79 678.5,446.51 688.5,443.97 698.5,443.04 708.5,442.16 718.5,441.34 728.5,438.74 738.5,435.66 748.5,433.45 757.5,430.45 767.5,427.78 776.5,424.92 786.5,422.52 796.5,419.99 806.5,416.95 816.5,413.48 826.5,410.26 835.5,406.87 845.5,403.17 855.5,400.05 865.5,395.42 875.5,392.11 884.5,389.81 894.5,387.55 904.5,385.19 913.5,382.71 923.5,379.72 933.5,376.44 943.5,373.77 953.5,373.38 963.5,374.02 972.5,376.1 982.5,375.47 992.5,374.1 1002.5,372.8 1012.5,370.51 1021.5,371.16 1031.5,370.75 1041.5,370.09 1051.5,367.93 1061.5,365.75 1070.5,360.42 1080.5,356.03 1090.5,351.54 1100.5,347.61 1110.5,347.53 1119.5,349.21 1129.5,349.5 1139.5,348.86 1149.5,347.12 1159.5,344.16 1168.5,339.51 1178.5,337.27 1188.5,336.88 1198.5,332.9 1208.5,324.84 1217.5,313.49 1227.5,304.46 1237.5,295.12 1247.5,284.26 1257.5,274.88 1266.5,266.87 1276.5,256.5 1286.5,243.91 1296.5,237.02 1306.5,228.48 1316.5,219.91 1325.5,210.31 1335.5,204.86 1345.5,202.92 1354.5,199.64 1364.5,201.31 1374.5,203.95 1384.5,211.36 1394.5,213.14 1404.5,219.68 1413.5,229.54 1423.5,238.53 1433.5,242.9 1443.5,248.27 1453.5,252.83 1462.5,254.46 1472.5,254.69 1482.5,250.83 1492.5,250.33 1501.5,245.35 1511.5,235.27 1521.5,228.88 1531.5,226.79 1541.5,223.23 1551.5,218.29 1560.5,210.26 1570.5,202.86 1580.5,193.54 1590.5,182.74 1600.5,176.86 1609.5,169.94 1619.5,160.37 1629.5,147.96 1639.5,133.34 1649.5,121.34 1658.5,111.93 1668.5,100.01 1678.5,92.11 1688.5,84.21 1698.5,74.98 1707.5,71.93" fill="none" stroke="#94693c" stroke-width="1" stroke-linejoin="round"/>
<polyline points="-6.5,539.7 2.5,539.17 12.5,538.97 22.5,539.06 32.5,536.64 42.5,532.98 51.5,529.74 61.5,525.77 71.5,522.57 80.5,520.25 90.5,518.24 100.5,517.74 110.5,518.71 120.5,521.52 130.5,522.56 140.5,524.23 149.5,525.49 159.5,525.61 169.5,524.55 179.5,521.83 188.5,518.01 198.5,517.19 208.5,515.53 218.5,513.79 228.5,512.43 238.5,511.36 248.5,511.3 257.5,511.04 267.5,509.38 277.5,507.43 287.5,505.48 296.5,503.15 306.5,500.9 316.5,497.76 326.5,495.03 335.5,491.3 345.5,489.37 355.5,486.97 365.5,484.28 375.5,481.29 385.5,478.17 395.5,475.64 404.5,473.14 414.5,469.7 423.5,466.8 433.5,464.4 443.5,462.18 453.5,461 463.5,457.83 473.5,456.21 483.5,454.12 492.5,451.48 502.5,449.54 512.5,449.04 522.5,446.55 531.5,445.62 541.5,443.99 551.5,442.71 561.5,442.78 571.5,442.13 581.5,442.46 590.5,445.11 600.5,444.94 610.5,445.01 620.5,445.93 630.5,447.69 639.5,450.15 649.5,448.9 659.5,446.81 669.5,446.56 678.5,446.29 688.5,444.43 698.5,441.12 708.5,437.73 718.5,436.78 728.5,434.86 738.5,432.82 748.5,430.24 757.5,427.51 767.5,424.76 776.5,421.66 786.5,417.56 796.5,414.33 806.5,411.01 816.5,408.24 826.5,406 835.5,402.95 845.5,399.17 855.5,395.41 865.5,389.66 875.5,386.17 884.5,383.74 894.5,381.89 904.5,380.02 913.5,379.01 923.5,376.96 933.5,375.84 943.5,372.97 953.5,371.95 963.5,370.34 972.5,373.19 982.5,373.4 992.5,373.85 1002.5,374.82 1012.5,374.36 1021.5,373.78 1031.5,371.17 1041.5,364.38 1051.5,361.18 1061.5,358.42 1070.5,355.51 1080.5,352.7 1090.5,345.83 1100.5,341.76 1110.5,342.13 1119.5,347.04 1129.5,347.96 1139.5,347.87 1149.5,348.45 1159.5,347.87 1168.5,343.93 1178.5,338.06 1188.5,328.22 1198.5,318.04 1208.5,307.82 1217.5,299 1227.5,291.25 1237.5,284.46 1247.5,272.72 1257.5,259.31 1266.5,249.6 1276.5,240.43 1286.5,228.82 1296.5,221.69 1306.5,212.61 1316.5,207.07 1325.5,199 1335.5,195.87 1345.5,196.18 1354.5,196.07 1364.5,198.59 1374.5,205.38 1384.5,216.6 1394.5,225.73 1404.5,233.78 1413.5,245.1 1423.5,254.55 1433.5,255.3 1443.5,259.5 1453.5,255.32 1462.5,257.62 1472.5,255.4 1482.5,247.02 1492.5,242.6 1501.5,237.28 1511.5,226.52 1521.5,220.33 1531.5,215.77 1541.5,214.56 1551.5,208.84 1560.5,200.37 1570.5,194.69 1580.5,187.41 1590.5,176.69 1600.5,165.95 1609.5,150.4 1619.5,137.58 1629.5,126.78 1639.5,115.25 1649.5,105.69 1658.5,99.21 1668.5,84.9 1678.5,76.23 1688.5,67.9 1698.5,61.69 1707.5,62.66" fill="none" stroke="#efa584" stroke-width="1" stroke-linejoin="round"/>
<polyline points="-6.5,544.12 2.5,540.41 12.5,537.68 22.5,533.28 32.5,529.38 42.5,525.94 51.5,521.02 61.5,518.74 71.5,516.14 80.5,515.54 90.5,515.71 100.5,518.1 110.5,522.33 120.5,528.67 130.5,529.98 140.5,529.04 149.5,524.81 159.5,522.83 169.5,518.85 179.5,513.8 188.5,510.94 198.5,512.79 208.5,514.34 218.5,514.96 228.5,511.74 238.5,509.11 248.5,508.01 257.5,507.69 267.5,508.17 277.5,505.29 287.5,501.99 296.5,497.2 306.5,493.87 316.5,489.98 326.5,488.74 335.5,485.79 345.5,485.71 355.5,483.19 365.5,480.82 375.5,475.03 385.5,469.44 395.5,468.57 404.5,466.77 414.5,465.97 423.5,462.57 433.5,460.42 443.5,457.48 453.5,455.92 463.5,453.24 473.5,452.84 483.5,449.91 492.5,447.76 502.5,444.86 512.5,445.63 522.5,444.39 531.5,444.09 541.5,441.06 551.5,440.96 561.5,441.12 571.5,440.51 581.5,445.04 590.5,449.83 600.5,450.65 610.5,447.03 620.5,442.88 630.5,447.54 639.5,452.5 649.5,451.97 659.5,447.78 669.5,442.26 678.5,440.95 688.5,437.32 698.5,434.85 708.5,432.52 718.5,434.11 728.5,433.18 738.5,430.81 748.5,425.7 757.5,420.18 767.5,416.02 776.5,412.5 786.5,410.88 796.5,408.85 806.5,405.97 816.5,403.96 826.5,400.75 835.5,397.23 845.5,391.34 855.5,386.17 865.5,377.84 875.5,375.62 884.5,376.72 894.5,382.61 904.5,382.89 913.5,380.3 923.5,374.66 933.5,368.09 943.5,361.54 953.5,365.04 963.5,369.77 972.5,383.41 982.5,383.67 992.5,382.85 1002.5,371.88 1012.5,363.78 1021.5,364.87 1031.5,361.27 1041.5,360.11 1051.5,354.27 1061.5,353.1 1070.5,351.18 1080.5,344 1090.5,335.49 1100.5,329.19 1110.5,335.45 1119.5,357.09 1129.5,367.58 1139.5,364.57 1149.5,347.29 1159.5,335.27 1168.5,320 1178.5,311.2 1188.5,311.24 1198.5,307.17 1208.5,294 1217.5,279.12 1227.5,272.77 1237.5,265.51 1247.5,249.87 1257.5,236.7 1266.5,225.83 1276.5,218.65 1286.5,207.98 1296.5,207.65 1306.5,200.61 1316.5,199.12 1325.5,183.76 1335.5,186.77 1345.5,193.24 1354.5,201.13 1364.5,213.98 1374.5,222.08 1384.5,247.04 1394.5,247.1 1404.5,253.03 1413.5,259.72 1423.5,268.38 1433.5,264.19 1443.5,255.68 1453.5,248.83 1462.5,252.51 1472.5,243.47 1482.5,240.36 1492.5,233.34 1501.5,221.91 1511.5,207.86 1521.5,196.88 1531.5,202.31 1541.5,215.55 1551.5,213.54 1560.5,197.4 1570.5,175.56 1580.5,157.86 1590.5,141.62 1600.5,135.26 1609.5,129.19 1619.5,122.28 1629.5,105.98 1639.5,93.56 1649.5,83.44 1658.5,77.3 1668.5,64.44 1678.5,60.45 1688.5,49.22 1698.5,51.83 1707.5,61.91" fill="none" stroke="#c81c2c" stroke-width="1" stroke-linejoin="round"/>
</g>
<line x1="0" y1="89.5" x2="1851" y2="89.5" stroke="#8c4653" stroke-width="1" stroke-dasharray="5 5" stroke-dashoffset="1"/>
<rect x="1851" y="8" width="1" height="705" fill="#41474e"/>
<rect x="0" y="712" width="1852" height="1" fill="#41474e"/>
<rect x="1852" y="550" width="3" height="1" fill="#41474e"/>
<text transform="translate(1857.4,553.1) scale(1.1,1)" font-family="Liberation Sans, sans-serif" font-weight="bold" font-size="13" fill="#464d55" text-anchor="start">1,000.00</text>
<rect x="1852" y="449" width="3" height="1" fill="#41474e"/>
<text transform="translate(1857.4,452.1) scale(1.1,1)" font-family="Liberation Sans, sans-serif" font-weight="bold" font-size="13" fill="#464d55" text-anchor="start">2,000.00</text>
<rect x="1852" y="349" width="3" height="1" fill="#41474e"/>
<text transform="translate(1857.4,352.1) scale(1.1,1)" font-family="Liberation Sans, sans-serif" font-weight="bold" font-size="13" fill="#464d55" text-anchor="start">3,000.00</text>
<rect x="1852" y="248" width="3" height="1" fill="#41474e"/>
<text transform="translate(1857.4,251.1) scale(1.1,1)" font-family="Liberation Sans, sans-serif" font-weight="bold" font-size="13" fill="#464d55" text-anchor="start">4,000.00</text>
<rect x="1852" y="148" width="3" height="1" fill="#41474e"/>
<text transform="translate(1857.4,151.1) scale(1.1,1)" font-family="Liberation Sans, sans-serif" font-weight="bold" font-size="13" fill="#464d55" text-anchor="start">5,000.00</text>
<rect x="1852" y="47" width="3" height="1" fill="#41474e"/>
<text transform="translate(1857.4,50.1) scale(1.1,1)" font-family="Liberation Sans, sans-serif" font-weight="bold" font-size="13" fill="#464d55" text-anchor="start">6,000.00</text>
<rect x="1852" y="604" width="3" height="1" fill="#41474e"/>
<text transform="translate(1857.3,606.7) scale(1.1,1)" font-family="Liberation Sans, sans-serif" font-weight="bold" font-size="12.5" fill="#15181b" text-anchor="start">80</text>
<rect x="1852" y="678" width="3" height="1" fill="#41474e"/>
<text transform="translate(1857.3,680.7) scale(1.1,1)" font-family="Liberation Sans, sans-serif" font-weight="bold" font-size="12.5" fill="#15181b" text-anchor="start">20</text>
<rect x="37" y="713" width="1" height="5" fill="#41474e"/>
<text transform="translate(37.6,731.1) scale(1.1,1)" font-family="Liberation Sans, sans-serif" font-weight="bold" font-size="13" fill="#464d55" text-anchor="middle">2011</text>
<rect x="154" y="713" width="1" height="5" fill="#41474e"/>
<text transform="translate(154.6,731.1) scale(1.1,1)" font-family="Liberation Sans, sans-serif" font-weight="bold" font-size="13" fill="#464d55" text-anchor="middle">2012</text>
<rect x="272" y="713" width="1" height="5" fill="#41474e"/>
<text transform="translate(272.6,731.1) scale(1.1,1)" font-family="Liberation Sans, sans-serif" font-weight="bold" font-size="13" fill="#464d55" text-anchor="middle">2013</text>
<rect x="389" y="713" width="1" height="5" fill="#41474e"/>
<text transform="translate(389.6,731.1) scale(1.1,1)" font-family="Liberation Sans, sans-serif" font-weight="bold" font-size="13" fill="#464d55" text-anchor="middle">2014</text>
<rect x="507" y="713" width="1" height="5" fill="#41474e"/>
<text transform="translate(507.6,731.1) scale(1.1,1)" font-family="Liberation Sans, sans-serif" font-weight="bold" font-size="13" fill="#464d55" text-anchor="middle">2015</text>
<rect x="625" y="713" width="1" height="5" fill="#41474e"/>
<text transform="translate(625.6,731.1) scale(1.1,1)" font-family="Liberation Sans, sans-serif" font-weight="bold" font-size="13" fill="#464d55" text-anchor="middle">2016</text>
<rect x="742" y="713" width="1" height="5" fill="#41474e"/>
<text transform="translate(742.6,731.1) scale(1.1,1)" font-family="Liberation Sans, sans-serif" font-weight="bold" font-size="13" fill="#464d55" text-anchor="middle">2017</text>
<rect x="860" y="713" width="1" height="5" fill="#41474e"/>
<text transform="translate(860.6,731.1) scale(1.1,1)" font-family="Liberation Sans, sans-serif" font-weight="bold" font-size="13" fill="#464d55" text-anchor="middle">2018</text>
<rect x="977" y="713" width="1" height="5" fill="#41474e"/>
<text transform="translate(977.6,731.1) scale(1.1,1)" font-family="Liberation Sans, sans-serif" font-weight="bold" font-size="13" fill="#464d55" text-anchor="middle">2019</text>
<rect x="1095" y="713" width="1" height="5" fill="#41474e"/>
<text transform="translate(1095.6,731.1) scale(1.1,1)" font-family="Liberation Sans, sans-serif" font-weight="bold" font-size="13" fill="#464d55" text-anchor="middle">2020</text>
<rect x="1213" y="713" width="1" height="5" fill="#41474e"/>
<text transform="translate(1213.6,731.1) scale(1.1,1)" font-family="Liberation Sans, sans-serif" font-weight="bold" font-size="13" fill="#464d55" text-anchor="middle">2021</text>
<rect x="1330" y="713" width="1" height="5" fill="#41474e"/>
<text transform="translate(1330.6,731.1) scale(1.1,1)" font-family="Liberation Sans, sans-serif" font-weight="bold" font-size="13" fill="#464d55" text-anchor="middle">2022</text>
<rect x="1448" y="713" width="1" height="5" fill="#41474e"/>
<text transform="translate(1448.6,731.1) scale(1.1,1)" font-family="Liberation Sans, sans-serif" font-weight="bold" font-size="13" fill="#464d55" text-anchor="middle">2023</text>
<rect x="1565" y="713" width="1" height="5" fill="#41474e"/>
<text transform="translate(1565.6,731.1) scale(1.1,1)" font-family="Liberation Sans, sans-serif" font-weight="bold" font-size="13" fill="#464d55" text-anchor="middle">2024</text>
<rect x="1683" y="713" width="1" height="5" fill="#41474e"/>
<text transform="translate(1683.6,731.1) scale(1.1,1)" font-family="Liberation Sans, sans-serif" font-weight="bold" font-size="13" fill="#464d55" text-anchor="middle">2025</text>
<rect x="1801" y="713" width="1" height="5" fill="#41474e"/>
<text transform="translate(1801.6,731.1) scale(1.1,1)" font-family="Liberation Sans, sans-serif" font-weight="bold" font-size="13" fill="#464d55" text-anchor="middle">2026</text>
<clipPath id="ac"><rect x="1850" y="0" width="53" height="748"/></clipPath>
<g clip-path="url(#ac)">
<rect x="1850" y="52.3" width="60" height="19.7" rx="3" fill="#f08c5c"/>
<text transform="translate(1857.6,66.2) scale(1.1,1)" font-family="Liberation Sans, sans-serif" font-weight="bold" font-size="13" fill="#151515" text-anchor="start">5,851.13</text>
<rect x="1850" y="62.6" width="60" height="17.9" rx="3" fill="#9c5a1c"/>
<text transform="translate(1857.6,75.7) scale(1.1,1)" font-family="Liberation Sans, sans-serif" font-weight="bold" font-size="13" fill="#0c0c0c" text-anchor="start">5,758.91</text>
<rect x="1850" y="80.1" width="60" height="18" rx="3" fill="#d5091f"/>
<text transform="translate(1857.6,93) scale(1.1,1)" font-family="Liberation Sans, sans-serif" font-weight="bold" font-size="13" fill="#ffffff" text-anchor="start">5,580.94</text>
</g>
<rect x="1850" y="632.1" width="40.2" height="18.3" rx="3" fill="#000"/>
<text transform="translate(1857.3,645.1) scale(0.96,1)" font-family="Liberation Sans, sans-serif" font-weight="bold" font-size="13" fill="#fff" text-anchor="start">50.13</text>
<ellipse cx="1115.2" cy="368.5" rx="37.2" ry="58.8" fill="none" stroke="#e32619" stroke-width="3"/>
<ellipse cx="1346.7" cy="197.9" rx="32.5" ry="52.6" fill="none" stroke="#e32619" stroke-width="3"/>
<ellipse cx="1531.2" cy="216" rx="29.3" ry="41" fill="none" stroke="#e32619" stroke-width="3"/>
<ellipse cx="1707.8" cy="60.1" rx="46.3" ry="47.5" fill="none" stroke="#e32619" stroke-width="3"/>
<text x="957.5" y="279" font-family="Liberation Sans, sans-serif" font-size="22.3" fill="#e32619" textLength="227.5" lengthAdjust="spacingAndGlyphs">MA(3)&lt;MA(7)&lt;MA(10)</text>
<text x="1256.8" y="139" font-family="Liberation Sans, sans-serif" font-size="22.3" fill="#e32619" textLength="227.5" lengthAdjust="spacingAndGlyphs">MA(3)&lt;MA(7)&lt;MA(10)</text>
<text x="1565.8" y="246.6" font-family="Liberation Sans, sans-serif" font-size="22.3" fill="#e32619" textLength="227.6" lengthAdjust="spacingAndGlyphs">MA(10)&lt;MA(3)&lt;MA(7)</text>
<rect x="7" y="31.3" width="363" height="18.5" fill="#fff" fill-opacity="0.75"/>
<text x="11.5" y="45.8" font-family="Liberation Sans, sans-serif" font-size="15.4" fill="#4a5058" textLength="69.1" lengthAdjust="spacingAndGlyphs">O:5,968.33</text>
<text x="90.3" y="45.8" font-family="Liberation Sans, sans-serif" font-size="15.4" fill="#4a5058" textLength="69.4" lengthAdjust="spacingAndGlyphs">H:5,986.09</text>
<text x="169.7" y="45.8" font-family="Liberation Sans, sans-serif" font-size="15.4" fill="#4a5058" textLength="66.6" lengthAdjust="spacingAndGlyphs">L:5,504.65</text>
<text x="244.7" y="45.8" font-family="Liberation Sans, sans-serif" font-size="15.4" fill="#4a5058" textLength="70" lengthAdjust="spacingAndGlyphs">C:5,580.94</text>
<text x="323.5" y="45.8" font-family="Liberation Sans, sans-serif" font-size="15.4" fill="#4a5058" textLength="42.8" lengthAdjust="spacingAndGlyphs">V:106b</text>
<rect x="5" y="71" width="148" height="18.5" fill="#fff" fill-opacity="0.75"/>
<text x="11.7" y="82.9" font-family="Liberation Sans, sans-serif" font-size="15.4" fill="#4a5058" textLength="74" lengthAdjust="spacingAndGlyphs">ma (3,ma,0)</text>
<text x="95" y="82.9" font-family="Liberation Sans, sans-serif" font-size="15.4" fill="#e0262b" textLength="54.6" lengthAdjust="spacingAndGlyphs">5,858.66</text>
<rect x="5" y="100.1" width="141" height="18.5" fill="#fff" fill-opacity="0.75"/>
<text x="11.7" y="114.6" font-family="Liberation Sans, sans-serif" font-size="15.4" fill="#4a5058" textLength="74" lengthAdjust="spacingAndGlyphs">ma (7,ma,0)</text>
<text x="93.3" y="114.6" font-family="Liberation Sans, sans-serif" font-size="15.4" fill="#f0a382" textLength="48.7" lengthAdjust="spacingAndGlyphs">5,851.13</text>
<rect x="5" y="131.8" width="150" height="18.5" fill="#fff" fill-opacity="0.75"/>
<text x="11.7" y="146.3" font-family="Liberation Sans, sans-serif" font-size="15.4" fill="#4a5058" textLength="80.3" lengthAdjust="spacingAndGlyphs">ma (10,ma,0)</text>
<text x="101.6" y="146.3" font-family="Liberation Sans, sans-serif" font-size="15.4" fill="#a87838" textLength="49.8" lengthAdjust="spacingAndGlyphs">5,758.91</text>
<rect x="0" y="572.8" width="84" height="18.5" fill="#fff" fill-opacity="0.75"/>
<text x="3.8" y="587.3" font-family="Liberation Sans, sans-serif" font-size="15.4" fill="#4a5058" textLength="34" lengthAdjust="spacingAndGlyphs">rsi (7)</text>
<text x="47.5" y="587.3" font-family="Liberation Sans, sans-serif" font-size="15.4" fill="#4a5058" textLength="32.5" lengthAdjust="spacingAndGlyphs">50.13</text>
</svg>

<svg width="40" height="20" style="position:absolute;left:0;top:164px"><path d="M15.3 11.4 L18.9 8 L22.5 11.4" stroke="#3a3f45" stroke-width="1.7" stroke-linecap="round" stroke-linejoin="round" fill="none"/></svg>
<div class="tab"><svg width="8" height="30" style="position:absolute;left:0;top:0"><path d="M1.6 12.2 L4.2 15 L1.6 17.8" stroke="#d6e6ff" stroke-width="1.3" fill="none"/></svg></div>
<div class="pink"><svg width="36" height="36" style="position:absolute;left:0;top:0"><path d="M14.5 13.5 h9 v5 h-9 z M19 11 v9" stroke="#fff" stroke-width="1.3" fill="none"/><path d="M15 21 v3.2 h5.5" stroke="#fff" stroke-width="1.3" fill="none"/></svg></div>

</body></html>
